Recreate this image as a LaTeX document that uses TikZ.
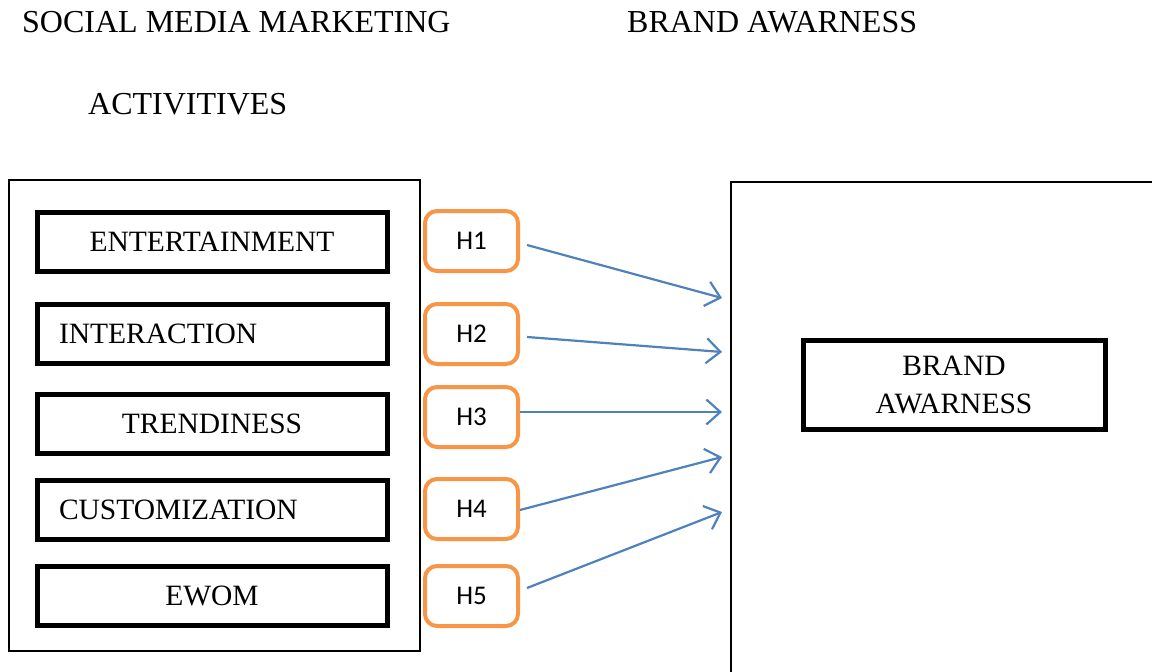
\documentclass[tikz,border=0pt]{standalone}
\usepackage{fontspec}
\setmainfont{Liberation Serif}
\newfontfamily\hfont{Carlito}
\usetikzlibrary{arrows.meta}
\definecolor{hor}{HTML}{F79646}
\definecolor{arb}{HTML}{4F81BD}
\tikzset{
  factorbox/.style={draw=black, line width=5pt, minimum height=59pt, text width=306pt, inner xsep=22pt, inner ysep=0pt, font=\fontsize{29.5}{34}\selectfont},
  hbox/.style={draw=hor, line width=4pt, rounded corners=12pt, minimum width=93pt, minimum height=60pt, inner sep=0pt, font=\hfont\fontsize{27}{30}\selectfont},
  header/.style={anchor=west, inner sep=0pt, font=\fontsize{32}{38}\selectfont},
  frame/.style={draw=black, line width=2pt},
  arr/.style={draw=arb, line width=2.2pt, -{Straight Barb[length=14pt, width=25pt, line width=2.2pt]}}
}
\begin{document}
\begin{tikzpicture}[x=1pt, y=-1pt]
\useasboundingbox (0,0) rectangle (1152,672);
% headers
\node[header] (h_smm) at (22,22) {SOCIAL MEDIA MARKETING};
\node[header] (h_ba) at (627,22) {BRAND AWARNESS};
\node[header] (h_act) at (88,104) {ACTIVITIVES};
% left frame
\node[frame, minimum width=411pt, minimum height=471pt, inner sep=0pt] (lframe) at (214.5,415.5) {};
% factor boxes
\node[factorbox, align=center] (ent) at (212,241.5) {ENTERTAINMENT};
\node[factorbox, align=left] (int) at (212,334) {INTERACTION};
\node[factorbox, align=center] (tre) at (212,423.5) {TRENDINESS};
\node[factorbox, align=left] (cus) at (212,510) {CUSTOMIZATION};
\node[factorbox, align=center] (ewo) at (212,596) {EWOM};
% hypothesis boxes
\node[hbox] (h1) at (471.5,241) {\raisebox{-2pt}{H1}};
\node[hbox] (h2) at (471.5,334) {\raisebox{-2pt}{H2}};
\node[hbox] (h3) at (471.5,417) {\raisebox{-2pt}{H3}};
\node[hbox] (h4) at (471.5,509) {\raisebox{-2pt}{H4}};
\node[hbox] (h5) at (471.5,596) {\raisebox{-2pt}{H5}};
% right frame (partially visible)
\coordinate (rtop) at (1152,182);
\coordinate (rcorner) at (731,182);
\coordinate (rbot) at (731,672);
\draw[frame, line cap=rect] (rtop) -- (rcorner) -- (rbot);
% targets
\coordinate (t1) at (722,298);
\coordinate (t2) at (722,352);
\coordinate (t3) at (722,412);
\coordinate (t4) at (722,457);
\coordinate (t5) at (722,512);
% arrows
\draw[arr] ([shift={(7,4)}]h1.east) -- (t1);
\draw[arr] ([shift={(7,3)}]h2.east) -- (t2);
\draw[arr] ([shift={(0,-5)}]h3.east) -- (t3);
\draw[arr] ([shift={(0,1)}]h4.east) -- (t4);
\draw[arr] ([shift={(7,-8)}]h5.east) -- (t5);
% brand awareness box
\node[draw=black, line width=5pt, minimum width=302pt, minimum height=89pt, align=center, inner sep=0pt, font=\fontsize{29.5}{38}\selectfont] (ba) at (954,384.5) {\raisebox{-4pt}{\parbox{300pt}{\centering BRAND\\AWARNESS}}};
\end{tikzpicture}
\end{document}
